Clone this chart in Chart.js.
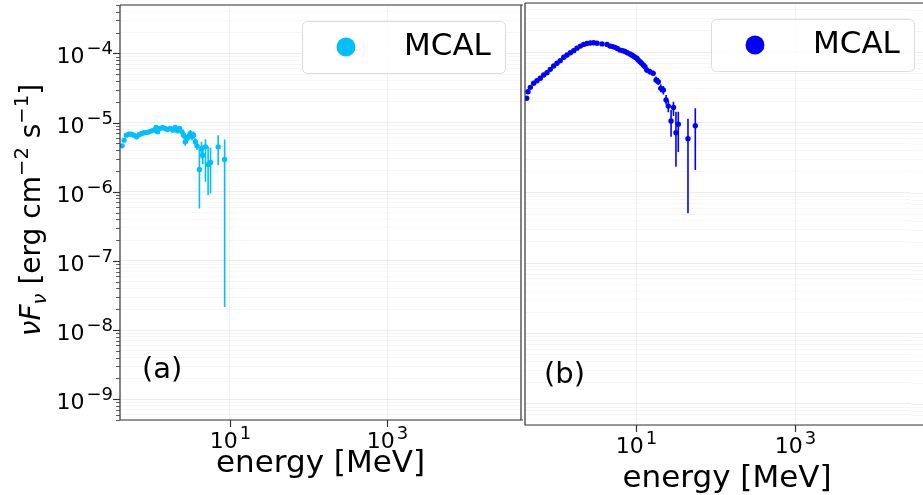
<!DOCTYPE html>
<html>
<head>
<meta charset="utf-8">
<script src="https://cdn.jsdelivr.net/npm/chart.js@4.4.1/dist/chart.umd.min.js"></script>
<style>
  html, body { margin: 0; padding: 0; background: #fff; overflow: hidden; }
  body { width: 923px; height: 495px; position: relative; }
  .panel { position: absolute; top: 0; height: 495px; overflow: hidden; }
  #panelA { left: 0; width: 524px; }
  #panelB { left: 522px; width: 401px; }
  canvas { display: block; }
</style>
</head>
<body>
<div class="panel" id="panelA"><canvas id="chartA" width="524" height="495" style="width:524px;height:495px"></canvas></div>
<div class="panel" id="panelB"><canvas id="chartB" width="401" height="495" style="width:401px;height:495px"></canvas></div>
<script>
// MCAL spectrum, panel (a): energy [MeV], nuFnu, error bar bounds (null = hidden under marker)
const energyA = [0.425, 0.451, 0.482, 0.518, 0.559, 0.600, 0.648, 0.702, 0.751, 0.806,
                 0.871, 0.935, 1.01, 1.08, 1.15, 1.20, 1.29, 1.40, 1.50, 1.60,
                 1.74, 1.88, 2.01, 2.15, 2.29, 2.45, 2.57, 2.70, 2.84, 2.98,
                 3.13, 3.29, 3.45, 3.63, 3.81, 4.09, 4.34, 4.51, 4.88, 5.27,
                 5.66, 7.08, 8.55];
const fluxA = [4.60e-6, 5.56e-6, 6.57e-6, 6.79e-6, 6.79e-6, 6.57e-6, 6.21e-6, 6.64e-6, 6.95e-6, 7.10e-6,
               7.19e-6, 7.33e-6, 7.58e-6, 7.76e-6, 8.49e-6, 7.33e-6, 8.22e-6, 8.49e-6, 8.22e-6, 7.94e-6,
               8.22e-6, 7.76e-6, 8.49e-6, 7.58e-6, 8.22e-6, 7.33e-6, 6.57e-6, 5.26e-6, 5.89e-6, 6.36e-6,
               6.95e-6, 6.21e-6, 6.57e-6, 5.26e-6, 4.60e-6, 2.09e-6, 4.22e-6, 3.37e-6, 4.45e-6, 2.48e-6,
               2.65e-6, 4.45e-6, 2.92e-6];
const fluxLoA = [null, null, null, null, null, null, null, null, null, null,
                 null, null, null, null, null, null, null, null, null, null,
                 null, null, null, null, null, null, 5.8e-6, 4.6e-6, 5.2e-6, 5.6e-6,
                 6.1e-6, 5.5e-6, 5.8e-6, 4.6e-6, 4.0e-6, 5.71e-7, 3.05e-6, 2.5e-6, 1.39e-6, 8.9e-7,
                 9.4e-7, 2.42e-6, 2.15e-8];
const fluxHiA = [null, null, null, null, null, null, null, null, null, null,
                 null, null, null, null, null, null, null, null, null, null,
                 null, null, null, null, null, null, 7.4e-6, 5.9e-6, 6.6e-6, 7.1e-6,
                 7.8e-6, 7.0e-6, 7.4e-6, 5.9e-6, 5.2e-6, 4.41e-6, 5.26e-6, 4.6e-6, 5.75e-6, 4.45e-6,
                 4.33e-6, 6.57e-6, 5.69e-6];

// panel (b)
const energyB = [0.420, 0.436, 0.467, 0.514, 0.566, 0.623, 0.687, 0.757, 0.832, 0.918,
                 1.01, 1.11, 1.23, 1.35, 1.49, 1.64, 1.80, 1.99, 2.19, 2.41,
                 2.65, 2.92, 3.22, 3.72, 4.30, 4.69, 5.07, 5.42, 5.80, 6.27,
                 6.78, 7.24, 7.75, 8.37, 8.79, 9.21, 9.68, 10.2, 10.6, 11.2,
                 11.7, 12.3, 12.9, 13.6, 14.9, 16.4, 17.8, 19.0, 20.4, 22.0,
                 23.8, 25.4, 27.5, 29.5, 31.7, 33.9, 44.9, 55.5];
const fluxB = [2.21e-5, 2.74e-5, 3.16e-5, 3.61e-5, 3.93e-5, 4.25e-5, 4.73e-5, 5.11e-5, 5.70e-5, 6.35e-5,
               6.95e-5, 7.57e-5, 8.45e-5, 9.12e-5, 9.82e-5, 1.05e-4, 1.14e-4, 1.22e-4, 1.29e-4, 1.33e-4,
               1.35e-4, 1.36e-4, 1.34e-4, 1.31e-4, 1.29e-4, 1.22e-4, 1.20e-4, 1.17e-4, 1.13e-4, 1.07e-4,
               1.05e-4, 1.02e-4, 9.82e-5, 9.42e-5, 9.12e-5, 8.82e-5, 8.45e-5, 8.18e-5, 7.74e-5, 7.31e-5,
               6.95e-5, 6.56e-5, 6.21e-5, 5.57e-5, 5.27e-5, 5.00e-5, 4.02e-5, 3.80e-5, 3.06e-5, 2.90e-5,
               2.09e-5, 1.71e-5, 1.05e-5, 1.63e-5, 7.16e-6, 9.42e-6, 5.89e-6, 9.0e-6];
const fluxLoB = [null, null, null, null, null, null, null, null, null, null,
                 null, null, null, null, null, null, null, null, null, null,
                 null, null, null, null, null, null, null, null, null, null,
                 null, null, null, null, null, null, null, null, null, null,
                 null, null, null, 5.1e-5, 4.8e-5, 4.6e-5, 3.6e-5, 3.4e-5, 2.7e-5, 2.5e-5,
                 1.8e-5, 1.4e-5, 6.28e-6, 1.24e-5, 2.35e-6, 3.80e-6, 5.12e-7, 2.11e-6];
const fluxHiB = [null, null, null, null, null, null, null, null, null, null,
                 null, null, null, null, null, null, null, null, null, null,
                 null, null, null, null, null, null, null, null, null, null,
                 null, null, null, null, null, null, null, null, null, null,
                 null, null, null, 6.1e-5, 5.8e-5, 5.5e-5, 4.5e-5, 4.3e-5, 3.5e-5, 3.3e-5,
                 2.45e-5, 2.05e-5, 1.51e-5, 1.98e-5, 1.42e-5, 1.42e-5, 1.13e-5, 1.59e-5];

// panel (b) is cut by the right edge, so its visible energy range stops short of 5e4
const xRangeA = [0.4, 5e4];
const xRangeB = [0.4, 4.06e4];
const yRange = [5e-10, 5e-4];
const xTickValues = [10, 1000];
const yTickValues = [1e-9, 1e-8, 1e-7, 1e-6, 1e-5, 1e-4];

const FONT = '"DejaVu Sans", sans-serif';

function logGrid(min, max) {
  const out = [];
  for (let e = Math.floor(Math.log10(min)); e <= Math.ceil(Math.log10(max)); e++) {
    for (let m = 1; m <= 9; m++) {
      const v = m * Math.pow(10, e);
      if (v >= min * 0.999 && v <= max * 1.001) out.push({ value: v, major: m === 1 });
    }
  }
  return out;
}

// "10" with a raised exponent, the way matplotlib writes log ticks
function drawPow(ctx, x, y, value, align) {
  const exp = Math.round(Math.log10(value));
  const sup = exp < 0 ? '\u2212' + Math.abs(exp) : String(exp);
  ctx.font = `22px ${FONT}`;
  const wb = ctx.measureText('10').width;
  ctx.font = `18px ${FONT}`;
  const ws = ctx.measureText(sup).width + 2;
  const x0 = align === 'right' ? x - wb - ws : x - (wb + ws) / 2;
  ctx.textAlign = 'left';
  ctx.textBaseline = 'alphabetic';
  ctx.font = `22px ${FONT}`;
  ctx.fillText('10', x0, y);
  ctx.font = `18px ${FONT}`;
  ctx.fillText(sup, x0 + wb + 2, y - 9);
}

function drawYTitle(ctx, cx, cy) {
  const parts = [
    { t: '\u03BD', s: 28, dy: 0, it: true },
    { t: 'F', s: 28, dy: 0, it: true },
    { t: '\u03BD', s: 19.6, dy: 6, it: true },
    { t: ' [erg cm', s: 28, dy: 0 },
    { t: '\u22122', s: 19.6, dy: -12 },
    { t: ' s', s: 28, dy: 0 },
    { t: '\u22121', s: 19.6, dy: -12 },
    { t: ']', s: 28, dy: 0 }
  ];
  ctx.save();
  ctx.translate(cx, cy);
  ctx.rotate(-Math.PI / 2);
  ctx.textAlign = 'left';
  ctx.textBaseline = 'alphabetic';
  let total = 0;
  parts.forEach(p => {
    ctx.font = `${p.it ? 'italic ' : ''}${p.s}px ${FONT}`;
    p.w = ctx.measureText(p.t).width;
    total += p.w;
  });
  let x = -total / 2;
  parts.forEach(p => {
    ctx.font = `${p.it ? 'italic ' : ''}${p.s}px ${FONT}`;
    ctx.fillText(p.t, x, p.dy);
    x += p.w;
  });
  ctx.restore();
}

const errorBars = {
  id: 'errorBars',
  beforeDatasetsDraw(chart) {
    const { ctx, scales: { x, y } } = chart;
    chart.data.datasets.forEach(ds => {
      ctx.save();
      ctx.strokeStyle = ds.backgroundColor;
      ctx.lineWidth = 1.6;
      ctx.beginPath();
      ds.data.forEach((p, i) => {
        if (ds.lo[i] == null) return;
        const px = x.getPixelForValue(p.x);
        ctx.moveTo(px, y.getPixelForValue(ds.lo[i]));
        ctx.lineTo(px, y.getPixelForValue(ds.hi[i]));
      });
      ctx.stroke();
      ctx.restore();
    });
  }
};

function panelDecor(o) {
  return {
    id: 'panelDecor',
    afterDraw(chart) {
      const { ctx, chartArea: a, scales: { x, y } } = chart;
      ctx.save();

      if (!o.rightSpine) {
        // the axes box of (b) runs past the page edge: keep its last strip to the grid only
        const sx = a.right - 12;
        ctx.fillStyle = '#fff';
        ctx.fillRect(sx, a.top - 2, a.right - sx + 2, a.bottom - a.top + 4);
        logGrid(yRange[0], yRange[1]).forEach(t => {
          ctx.strokeStyle = t.major ? 'rgba(0,0,0,0.07)' : 'rgba(0,0,0,0.035)';
          ctx.lineWidth = 1;
          const py = Math.round(y.getPixelForValue(t.value)) + 0.5;
          ctx.beginPath();
          ctx.moveTo(sx, py);
          ctx.lineTo(a.right + 2, py);
          ctx.stroke();
        });
      }

      ctx.strokeStyle = '#333';
      ctx.fillStyle = '#000';
      ctx.lineWidth = 1.2;
      ctx.beginPath();
      ctx.moveTo(a.left, a.top);
      ctx.lineTo(a.right + 2, a.top);
      ctx.moveTo(a.left, a.top);
      ctx.lineTo(a.left, a.bottom);
      ctx.lineTo(a.right + 2, a.bottom);
      if (o.rightSpine) {
        ctx.moveTo(a.right, a.bottom);
        ctx.lineTo(a.right, a.top);
      }
      ctx.stroke();

      xTickValues.forEach(v => {
        const px = Math.round(x.getPixelForValue(v)) + 0.5;
        ctx.beginPath();
        ctx.moveTo(px, a.bottom);
        ctx.lineTo(px, a.bottom + 7);
        ctx.stroke();
        drawPow(ctx, px, a.bottom + 28, v, 'center');
      });

      if (o.yAxis) {
        logGrid(yRange[0], yRange[1]).forEach(t => {
          const py = Math.round(y.getPixelForValue(t.value)) + 0.5;
          ctx.lineWidth = t.major ? 1.2 : 0.8;
          ctx.beginPath();
          ctx.moveTo(a.left - (t.major ? 7 : 4), py);
          ctx.lineTo(a.left, py);
          ctx.stroke();
        });
        yTickValues.forEach(v => {
          drawPow(ctx, a.left - 7, y.getPixelForValue(v) + 10, v, 'right');
        });
        drawYTitle(ctx, 40, 210);
      }

      ctx.fillStyle = '#000';
      ctx.textAlign = 'center';
      ctx.font = `31px ${FONT}`;
      ctx.fillText('energy [MeV]', o.titleX(a), a.bottom + o.titleGap);

      ctx.textAlign = 'left';
      ctx.font = `29px ${FONT}`;
      ctx.fillText(o.tag, a.left + o.tagX, a.bottom - 42);

      // legend box, upper right
      const ds = chart.data.datasets[0];
      const bw = 203, bh = 52;
      const bx = o.legendRight - bw, by = a.top + 16;
      ctx.beginPath();
      ctx.roundRect(bx + 0.5, by + 0.5, bw, bh, 5);
      ctx.fillStyle = 'rgba(255,255,255,0.8)';
      ctx.fill();
      ctx.strokeStyle = '#dcdcdc';
      ctx.lineWidth = 1;
      ctx.stroke();
      ctx.fillStyle = ds.backgroundColor;
      ctx.beginPath();
      ctx.arc(bx + 44, by + 26, 9.5, 0, Math.PI * 2);
      ctx.fill();
      ctx.fillStyle = '#000';
      ctx.font = `31px ${FONT}`;
      ctx.fillText(ds.label, bx + 102, by + 34);
      ctx.restore();
    }
  };
}

function makeChart(id, xs, ys, lo, hi, color, xRange, layout, decor) {
  const gridColor = c => c.tick && c.tick.major ? 'rgba(0,0,0,0.07)' : 'rgba(0,0,0,0.035)';
  return new Chart(document.getElementById(id), {
    type: 'scatter',
    data: {
      datasets: [{
        label: 'MCAL',
        data: xs.map((x, i) => ({ x, y: ys[i] })),
        lo, hi,
        backgroundColor: color,
        borderWidth: 0,
        pointRadius: 2.7,
        pointHoverRadius: 2.7
      }]
    },
    options: {
      responsive: false,
      animation: false,
      events: [],
      layout: { padding: layout.padding, autoPadding: false },
      plugins: { legend: { display: false }, tooltip: { enabled: false } },
      scales: {
        x: {
          type: 'logarithmic',
          min: xRange[0], max: xRange[1],
          ticks: { display: false },
          border: { display: false },
          grid: { color: 'rgba(0,0,0,0.045)', drawTicks: false },
          afterBuildTicks: s => { s.ticks = xTickValues.map(v => ({ value: v, major: true })); },
          afterFit: s => { s.height = layout.xHeight; }
        },
        y: {
          type: 'logarithmic',
          min: yRange[0], max: yRange[1],
          ticks: { display: false },
          border: { display: false },
          grid: { color: gridColor, drawTicks: false },
          afterBuildTicks: s => { s.ticks = logGrid(yRange[0], yRange[1]); },
          afterFit: s => { s.width = layout.yWidth; }
        }
      }
    },
    plugins: [errorBars, panelDecor(decor)]
  });
}

makeChart('chartA', energyA, fluxA, fluxLoA, fluxHiA, '#00bfff', xRangeA,
  { padding: { top: 5, right: 3, left: 0, bottom: 0 }, xHeight: 75, yWidth: 120 },
  { yAxis: true, rightSpine: true, tag: '(a)', tagX: 22, titleGap: 52,
    titleX: a => (a.left + a.right) / 2, legendRight: 505 });

// canvas B starts at page x = 522; its full axes box would run to about x = 929
makeChart('chartB', energyB, fluxB, fluxLoB, fluxHiB, '#0000ff', xRangeB,
  { padding: { top: 3, right: 0, left: 0, bottom: 0 }, xHeight: 70, yWidth: 3 },
  { yAxis: false, rightSpine: false, tag: '(b)', tagX: 19, titleGap: 62,
    titleX: a => (a.left + 407) / 2, legendRight: 392 });
</script>
</body>
</html>
